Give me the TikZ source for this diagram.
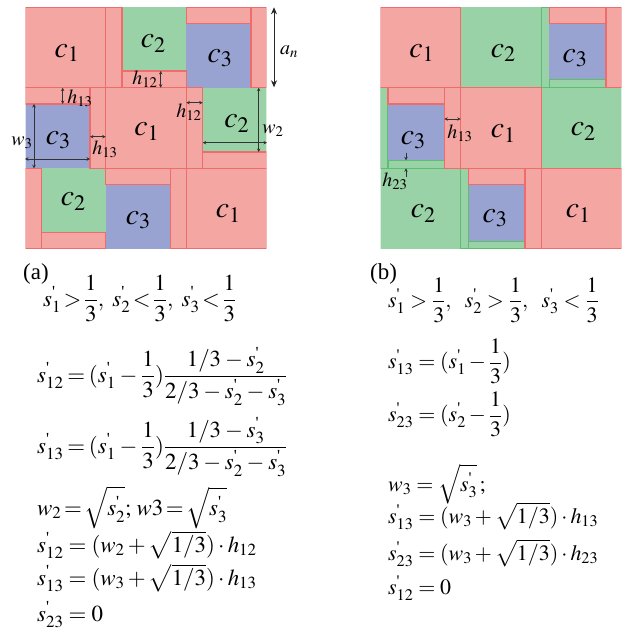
\documentclass[tikz,border=0pt]{standalone}
\usepackage{amsmath}
\usepackage{mathptmx}
\usepackage{fontspec}
\setmainfont{Liberation Serif}
\usetikzlibrary{arrows.meta}
\definecolor{cR}{HTML}{F4A7A2}
\definecolor{cRl}{HTML}{EE6D6C}
\definecolor{cG}{HTML}{99D2A6}
\definecolor{cGl}{HTML}{5CBF6E}
\definecolor{cB}{HTML}{99A3D1}
\newcommand{\spr}[1]{s^{\text{\textquotesingle}}_{#1}}
\newcommand{\tmu}[1]{\thickmuskip=#1mu\relax}
\newcommand{\mmu}[1]{\medmuskip=#1mu\relax}
\tikzset{
  redbox/.style={fill=cR, draw=cRl, line width=1.1bp},
  greenbox/.style={fill=cG},
  greenedge/.style={fill=cG, draw=cGl, line width=1.1bp},
  gline/.style={draw=cGl, line width=1.1bp},
  bluebox/.style={fill=cB},
  dimarrow/.style={{Stealth[length=3.5bp,width=3.5bp]}-{Stealth[length=3.5bp,width=3.5bp]}, line width=0.7bp, black!80},
  bigarrow/.style={{Stealth[length=7bp,width=6bp]}-{Stealth[length=7bp,width=6bp]}, line width=0.8bp, black!85},
  upto/.style={-{Stealth[length=3.5bp,width=3.5bp]}, line width=0.7bp, black!80},
  clab/.style={inner sep=0, font=\fontsize{30}{32}\selectfont},
  slab/.style={inner sep=0, font=\fontsize{20}{22}\selectfont},
  eq/.style={anchor=base west, inner sep=0, font=\fontsize{23}{27}\selectfont},
  eqb/.style={anchor=base west, inner sep=0, font=\fontsize{22}{26}\selectfont},
}
\begin{document}
\begin{tikzpicture}[x=1bp,y=-1bp]
\useasboundingbox (0,0) rectangle (626,635);
% ---------------- panel (a) ----------------
\begin{scope}
\clip (25.6,7.6) rectangle (266.4,248.4);
\path[greenbox] (122,7) rectangle (186.3,71);
\path[greenbox] (202.7,87.7) rectangle (267,152);
\path[greenbox] (41.7,168.3) rectangle (105.7,232.3);
\path[bluebox] (186.3,23.3) rectangle (251,87.7);
\path[bluebox] (25,104) rectangle (90,168.3);
\path[bluebox] (105.7,184.7) rectangle (170.3,249);
\path[redbox] (25,7) rectangle (105.7,87.7);
\path[redbox] (105.7,7) rectangle (122,87.7);
\path[redbox] (122,71) rectangle (186.3,87.7);
\path[redbox] (186.3,7) rectangle (251,23.3);
\path[redbox] (251,7) rectangle (267,87.7);
\path[redbox] (25,87.7) rectangle (90,104);
\path[redbox] (90,87.7) rectangle (105.7,168.3);
\path[redbox] (105.7,87.7) rectangle (186.3,168.3);
\path[redbox] (186.3,87.7) rectangle (202.7,168.3);
\path[redbox] (202.7,152) rectangle (267,168.3);
\path[redbox] (25,168.3) rectangle (41.7,249);
\path[redbox] (41.7,232.3) rectangle (105.7,249);
\path[redbox] (105.7,168.3) rectangle (170.3,184.7);
\path[redbox] (170.3,168.3) rectangle (186.3,249);
\path[redbox] (186.3,168.3) rectangle (267,249);
\end{scope}
\node[clab] (a00) at (67,53) {$c_1$};
\node[clab] (a01) at (153.3,43.3) {$c_2$};
\node[clab] (a02) at (220,58.3) {$c_3$};
\node[clab] (a10) at (58.3,140) {$c_3$};
\node[clab] (a11) at (146.7,131.7) {$c_1$};
\node[clab] (a12) at (236.7,123.3) {$c_2$};
\node[clab] (a20) at (73.3,201.7) {$c_2$};
\node[clab] (a21) at (138.3,220) {$c_3$};
\node[clab] (a22) at (228.3,213.3) {$c_1$};
% dimension arrows (a)
\coordinate (an1) at (274,7.3); \coordinate (an2) at (274,87.3);
\draw[bigarrow] (an1) -- (an2);
\node[slab] (lan) at (289,52) {$a_n$};
\coordinate (ha1) at (160.7,71); \coordinate (ha2) at (160.7,87.7);
\draw[dimarrow] (ha1) -- (ha2);
\node[slab] (lha) at (145,79) {$h_{12}$};
\coordinate (hb1) at (186.3,102.7); \coordinate (hb2) at (202.7,102.7);
\draw[dimarrow] (hb1) -- (hb2);
\node[slab] (lhb) at (189,112) {$h_{12}$};
\coordinate (hc1) at (62.7,87.7); \coordinate (hc2) at (62.7,104);
\draw[dimarrow] (hc1) -- (hc2);
\node[slab] (lhc) at (80,98) {$h_{13}$};
\coordinate (hd1) at (90,136.7); \coordinate (hd2) at (105.7,136.7);
\draw[dimarrow] (hd1) -- (hd2);
\node[slab] (lhd) at (105,149) {$h_{13}$};
\coordinate (wa1) at (34,104); \coordinate (wa2) at (34,168.3);
\draw[dimarrow] (wa1) -- (wa2);
\coordinate (wb1) at (25,159); \coordinate (wb2) at (90,159);
\draw[dimarrow] (wb1) -- (wb2);
\node[slab] (lw3) at (22,143) {$w_3$};
\coordinate (wc1) at (258.7,87.7); \coordinate (wc2) at (258.7,152);
\draw[dimarrow] (wc1) -- (wc2);
\coordinate (wd1) at (202.7,142.7); \coordinate (wd2) at (267,142.7);
\draw[dimarrow] (wd1) -- (wd2);
\node[slab] (lw2) at (273,131) {$w_2$};
% ---------------- panel (b) ----------------
\begin{scope}
\clip (380.6,7.6) rectangle (621.4,248.4);
\path[greenbox] (460.7,7) rectangle (541.3,87.7);
\path[greenbox] (541.3,87.7) rectangle (622,168.3);
\path[greenbox] (380,168.3) rectangle (460.7,249);
\coordinate (gl1) at (460.7,168.3); \coordinate (gl2) at (460.7,249);
\path[gline] (gl1) -- (gl2);
\path[greenedge] (541.3,7) rectangle (549.3,87.7);
\path[greenedge] (549.3,79.3) rectangle (606,87.7);
\path[greenedge] (380,87.7) rectangle (388,168.3);
\path[greenedge] (388,160.3) rectangle (444.3,168.3);
\path[greenedge] (460.7,168.3) rectangle (468.7,249);
\path[greenedge] (468.7,241) rectangle (525,249);
\path[bluebox] (549.3,23.3) rectangle (606,79.3);
\path[bluebox] (388,104) rectangle (444.3,160.3);
\path[bluebox] (468.7,184.7) rectangle (525,241);
\path[redbox] (380,7) rectangle (460.7,87.7);
\path[redbox] (549.3,7) rectangle (606,23.3);
\path[redbox] (606,7) rectangle (622,87.7);
\path[redbox] (388,87.7) rectangle (444.3,104);
\path[redbox] (444.3,87.7) rectangle (460.7,168.3);
\path[redbox] (460.7,87.7) rectangle (541.3,168.3);
\path[redbox] (468.7,168.3) rectangle (525,184.7);
\path[redbox] (525,168.3) rectangle (541.3,249);
\path[redbox] (541.3,168.3) rectangle (622,249);
\end{scope}
\node[clab] (b00) at (421.7,53) {$c_1$};
\node[clab] (b01) at (503.3,53) {$c_2$};
\node[clab] (b02) at (575,58.3) {$c_3$};
\node[clab] (b10) at (413.3,140) {$c_3$};
\node[clab] (b11) at (503.3,133.3) {$c_1$};
\node[clab] (b12) at (583.3,131.7) {$c_2$};
\node[clab] (b20) at (423.3,213.3) {$c_2$};
\node[clab] (b21) at (495,218.3) {$c_3$};
\node[clab] (b22) at (578.3,213.3) {$c_1$};
\coordinate (he1) at (444.3,119); \coordinate (he2) at (460.7,119);
\draw[dimarrow] (he1) -- (he2);
\node[slab] (lhe) at (460,133) {$h_{13}$};
\coordinate (hf1) at (406,152.7); \coordinate (hf2) at (406,160.3);
\draw[upto] (hf1) -- (hf2);
\coordinate (hg1) at (406,176.5); \coordinate (hg2) at (406,168.3);
\draw[upto] (hg1) -- (hg2);
\node[slab] (lhf) at (395,181) {$h_{23}$};
% ---------------- formulas (a) ----------------
\node[eq] (ta) at (23,279) {(a)};
\node[eq] (ea1) at (43,306) {\tmu{2}$\spr1>\dfrac13,\ \spr2<\dfrac13,\ \spr3<\dfrac13$};
\node[eq] (ea2) at (37,382) {\tmu{3}\mmu{3}$\spr{12}=(\spr1-\dfrac13)\dfrac{1/3-\spr2}{2/3-\spr2-\spr3}$};
\node[eq] (ea3) at (37,453) {\tmu{3}\mmu{3}$\spr{13}=(\spr1-\dfrac13)\dfrac{1/3-\spr3}{2/3-\spr2-\spr3}$};
\node[eq] (ea4) at (37,515) {\tmu{2}$w_2=\sqrt{\spr2};\;w3=\sqrt{\spr3}$};
\node[eq] (ea5) at (37,552) {\tmu{4}$\spr{12}=(w_2+\sqrt{1/3})\cdot h_{12}$};
\node[eq] (ea6) at (37,585) {\tmu{4}$\spr{13}=(w_3+\sqrt{1/3})\cdot h_{13}$};
\node[eq] (ea7) at (37,621) {\tmu{4}$\spr{23}=0$};
% ---------------- formulas (b) ----------------
\node[eq] (tb) at (370,279) {(b)};
\node[eqb] (eb1) at (388,307) {$\spr1>\dfrac13,\ \ \spr2>\dfrac13,\ \ \spr3<\dfrac13$};
\node[eqb] (eb2) at (388,368.5) {\tmu{4}$\spr{13}=(\spr1-\dfrac13)$};
\node[eqb] (eb3) at (388,421.5) {\tmu{4}$\spr{23}=(\spr2-\dfrac13)$};
\node[eqb] (eb4) at (388,491) {\tmu{4}$w_3=\sqrt{\spr3}\,;$};
\node[eqb] (eb5) at (388,523) {\tmu{4}$\spr{13}=(w_3+\sqrt{1/3})\cdot h_{13}$};
\node[eqb] (eb6) at (388,560) {\tmu{4}$\spr{23}=(w_3+\sqrt{1/3})\cdot h_{23}$};
\node[eqb] (eb7) at (388,594) {\tmu{4}$\spr{12}=0$};
\end{tikzpicture}
\end{document}
